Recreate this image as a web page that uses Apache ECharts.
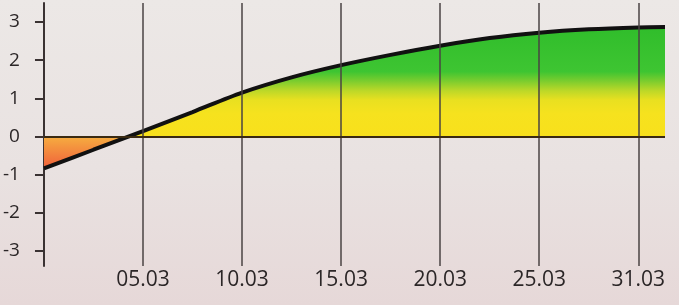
<!DOCTYPE html>
<html>
<head>
<meta charset="utf-8">
<script src="https://cdn.jsdelivr.net/npm/echarts@6/dist/echarts.min.js"></script>
<style>
html,body{margin:0;padding:0;}
#c{width:679px;height:305px;background:linear-gradient(180deg,#ece8e6 0%,#e9e2e1 55%,#e6d8d8 100%);}
</style>
</head>
<body>
<div id="c"></div>
<script>
// x positions (0 = start of axis, 1..6 = labelled dates)
const xPos = [0, 0.5, 1, 1.5, 2, 2.5, 3, 3.5, 4, 4.5, 5, 5.5, 6, 6.27];
const values = [-0.84, -0.35, 0.14, 0.64, 1.15, 1.55, 1.87, 2.14, 2.38, 2.58, 2.72, 2.81, 2.86, 2.87];
const xTickPos = [1, 2, 3, 4, 5, 6];
const xLabels = ['05.03', '10.03', '15.03', '20.03', '25.03', '31.03'];
const yTicks = [-3, -2, -1, 0, 1, 2, 3];

const chart = echarts.init(document.getElementById('c'), null, {renderer: 'canvas'});

const vTop = Math.max(0, Math.max(...values));
const vBot = Math.min(0, Math.min(...values));
const off = v => Math.min(1, Math.max(0, (vTop - v) / (vTop - vBot)));

const areaGrad = new echarts.graphic.LinearGradient(0, 0, 0, 1, [
  {offset: 0, color: '#30bd2b'},
  {offset: off(1.7), color: '#3ec532'},
  {offset: off(1.45), color: '#7ccd2e'},
  {offset: off(1.2), color: '#bcd828'},
  {offset: off(0.95), color: '#e9e020'},
  {offset: off(0.6), color: '#f6e21e'},
  {offset: off(0), color: '#f8e01c'},
  {offset: off(0), color: '#f6ad40'},
  {offset: 1, color: '#f0603b'}
]);

const lineData = xPos.map((x, i) => [x, values[i]]);

chart.setOption({
  animation: false,
  backgroundColor: 'transparent',
  grid: {left: 41, right: 14, top: 3, bottom: 39},
  xAxis: {
    type: 'value', min: 0, max: 6.27,
    axisLine: {show: false, onZero: false},
    axisTick: {show: false},
    splitLine: {show: false},
    axisLabel: {
      customValues: xTickPos,
      margin: 4,
      fontFamily: 'Open Sans', fontSize: 21, color: '#2b2627',
      formatter: v => xLabels[xTickPos.indexOf(Math.round(v * 100) / 100)] || ''
    }
  },
  yAxis: {
    type: 'value', min: -3.4, max: 3.5,
    axisLine: {show: true, onZero: false, lineStyle: {color: '#3a3232', width: 2}},
    axisTick: {show: true, customValues: yTicks, length: 9, lineStyle: {color: '#3a3232', width: 2}},
    splitLine: {show: false},
    axisLabel: {
      customValues: yTicks,
      margin: 24,
      fontFamily: 'Open Sans', fontSize: 19, color: '#2b2627'
    }
  },
  series: [{
    type: 'line',
    data: lineData,
    smooth: 0.3,
    showSymbol: false,
    lineStyle: {color: '#111', width: 4},
    areaStyle: {color: areaGrad, opacity: 1},
    markLine: {
      silent: true,
      symbol: ['none', 'none'],
      label: {show: false},
      lineStyle: {color: '#4a4343', width: 1.5, type: 'solid'},
      data: xTickPos.map(p => ({xAxis: p})).concat([
        {yAxis: 0, lineStyle: {color: '#3a2a12', width: 2, type: 'solid'}}
      ])
    }
  }]
});
</script>
</body>
</html>
